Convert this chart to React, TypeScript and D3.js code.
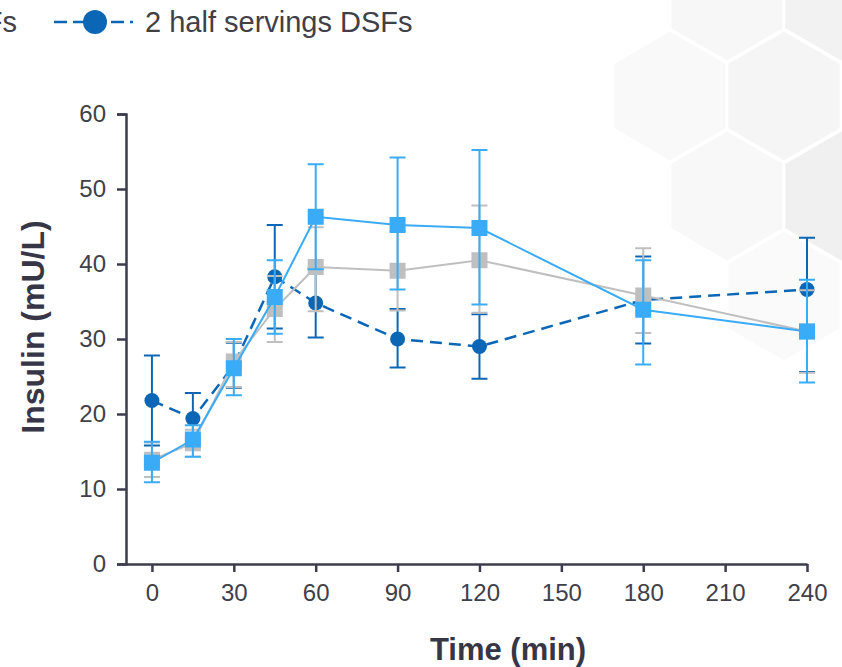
import React, { useEffect, useRef } from "react";
import * as d3 from "d3";

const times = [0, 15, 30, 45, 60, 90, 120, 180, 240];
const xTicks = [0, 30, 60, 90, 120, 150, 180, 210, 240];
const yTicks = [0, 10, 20, 30, 40, 50, 60];

// 2 half servings DSFs (dark blue, dashed, circles)
const halfMean = [21.8, 19.4, 26.5, 38.3, 34.8, 30.0, 29.0, 35.2, 36.6];
const halfUp = [6.0, 3.4, 3.0, 6.9, 4.6, 4.0, 4.3, 5.8, 6.9];
const halfDown = [6.0, 3.4, 3.0, 6.9, 4.6, 3.8, 4.3, 5.8, 11.0];

// 1 full serving DSFs (light blue, squares)
const fullMean = [13.5, 16.6, 26.1, 35.6, 46.3, 45.2, 44.8, 33.9, 31.0];
const fullUp = [2.8, 1.9, 3.9, 4.9, 7.0, 9.0, 10.4, 6.6, 6.9];
const fullDown = [2.6, 2.3, 3.6, 4.9, 7.0, 8.6, 10.2, 7.3, 6.8];

// control (grey, squares)
const ctrlMean = [13.9, 16.1, 27.0, 34.0, 39.6, 39.1, 40.5, 35.8, 31.0];
const ctrlUp = [2.3, 1.8, 2.6, 4.4, 5.3, 5.3, 7.3, 6.3, 5.5];
const ctrlDown = [2.3, 1.8, 3.4, 4.4, 5.9, 5.3, 7.0, 5.0, 5.5];

const legendLabels = ["Control", "1 full serving DSFs", "2 half servings DSFs"];

// background hexagon decoration
const hexCenters: [number, number][] = [
  [727, -4], [841, -4], [670, 96], [784, 96], [727, 196], [841, 196], [784, 296]
];
const hexFills = ["#f7f7f7", "#f2f2f2", "#f9f9f9", "#f5f5f5", "#f8f8f8", "#f0f0f0", "#fafafa"];

const width = 842;
const height = 667;
const font = "'Liberation Sans', Arial, Helvetica, sans-serif";
const axisColor = "#3c3c4e";
const textColor = "#404048";

const DARK = "#0b67b5";
const LIGHT = "#3aabf7";
const GREY = "#bfbfbf";

const App = () => {
  const chart = useRef<SVGSVGElement>(null);

  useEffect(() => {
    const svg = d3.select(chart.current);
    svg.selectAll("*").remove();

    const x = d3.scaleLinear().domain([-9.5, 240]).range([126, 807]);
    const y = d3.scaleLinear().domain([0, 60]).range([564, 114]);

    // hexagons
    const R = 66;
    const hex = (cx: number, cy: number) =>
      d3.range(6).map(k => {
        const a = ((-90 + 60 * k) * Math.PI) / 180;
        return [cx + R * Math.cos(a), cy + R * Math.sin(a)];
      });
    svg
      .append("g")
      .selectAll("polygon")
      .data(hexCenters)
      .join("polygon")
      .attr("points", d => hex(d[0], d[1]).map(p => p.join(",")).join(" "))
      .attr("fill", (d, i) => hexFills[i])
      .attr("stroke", "#fff")
      .attr("stroke-width", 3);

    // axes
    const yAxis = svg
      .append("g")
      .attr("transform", `translate(${x(-9.5)},0)`)
      .call(d3.axisLeft(y).tickValues(yTicks).tickSize(9).tickPadding(11));
    const xAxis = svg
      .append("g")
      .attr("transform", `translate(0,${y(0)})`)
      .call(d3.axisBottom(x).tickValues(xTicks).tickSize(8).tickSizeOuter(0).tickPadding(12));
    [yAxis, xAxis].forEach(g => {
      g.selectAll("path,line").attr("stroke", axisColor).attr("stroke-width", 2.5);
      g.selectAll("text")
        .attr("fill", textColor)
        .attr("font-size", 24)
        .attr("font-family", font);
    });

    svg
      .append("text")
      .attr("transform", `translate(44,327) rotate(-90)`)
      .attr("text-anchor", "middle")
      .attr("font-family", font)
      .attr("font-weight", "bold")
      .attr("font-size", 32)
      .attr("fill", "#363646")
      .text("Insulin (mU/L)");
    svg
      .append("text")
      .attr("x", 508)
      .attr("y", 660)
      .attr("text-anchor", "middle")
      .attr("font-family", font)
      .attr("font-weight", "bold")
      .attr("font-size", 31)
      .attr("fill", "#363646")
      .text("Time (min)");

    const series = [
      { mean: halfMean, up: halfUp, down: halfDown, color: DARK, marker: "circle", dash: "12,7", lw: 2.5 },
      { mean: ctrlMean, up: ctrlUp, down: ctrlDown, color: GREY, marker: "square", dash: null, lw: 2 },
      { mean: fullMean, up: fullUp, down: fullDown, color: LIGHT, marker: "square", dash: null, lw: 2 }
    ];

    const line = d3
      .line<number>()
      .x((d, i) => x(times[i]))
      .y(d => y(d));

    series.forEach(s => {
      const g = svg.append("g");
      // error bars
      const eb = g
        .selectAll("g.eb")
        .data(s.mean)
        .join("g")
        .attr("stroke", s.color)
        .attr("stroke-width", 2);
      eb.append("line")
        .attr("x1", (d, i) => x(times[i]))
        .attr("x2", (d, i) => x(times[i]))
        .attr("y1", (d, i) => y(d + s.up[i]))
        .attr("y2", (d, i) => y(d - s.down[i]));
      eb.append("line")
        .attr("x1", (d, i) => x(times[i]) - 8)
        .attr("x2", (d, i) => x(times[i]) + 8)
        .attr("y1", (d, i) => y(d + s.up[i]))
        .attr("y2", (d, i) => y(d + s.up[i]));
      eb.append("line")
        .attr("x1", (d, i) => x(times[i]) - 8)
        .attr("x2", (d, i) => x(times[i]) + 8)
        .attr("y1", (d, i) => y(d - s.down[i]))
        .attr("y2", (d, i) => y(d - s.down[i]));

      g.append("path")
        .attr("d", line(s.mean))
        .attr("fill", "none")
        .attr("stroke", s.color)
        .attr("stroke-width", s.lw)
        .attr("stroke-dasharray", s.dash);

      if (s.marker === "circle") {
        g.selectAll("circle")
          .data(s.mean)
          .join("circle")
          .attr("cx", (d, i) => x(times[i]))
          .attr("cy", d => y(d))
          .attr("r", 7.5)
          .attr("fill", s.color);
      } else {
        g.selectAll("rect")
          .data(s.mean)
          .join("rect")
          .attr("x", (d, i) => x(times[i]) - 8)
          .attr("y", d => y(d) - 8)
          .attr("width", 16)
          .attr("height", 16)
          .attr("fill", s.color);
      }
    });

    // legend, laid out right to left from the last item
    const legendItems = [
      { label: legendLabels[0], color: GREY, marker: "square", dash: null },
      { label: legendLabels[1], color: LIGHT, marker: "square", dash: null },
      { label: legendLabels[2], color: DARK, marker: "circle", dash: "13,6" }
    ];
    const lg = svg.append("g").attr("font-family", font).attr("font-size", 29);
    let cursor = 54; // left edge of last item's marker
    for (let k = legendItems.length - 1; k >= 0; k--) {
      const it = legendItems[k];
      const item = lg.append("g");
      item
        .append("text")
        .attr("x", cursor + 91)
        .attr("y", 32)
        .attr("fill", textColor)
        .text(it.label);
      item.append("line")
        .attr("x1", cursor)
        .attr("x2", cursor + 79)
        .attr("y1", 22)
        .attr("y2", 22)
        .attr("stroke", it.color)
        .attr("stroke-width", 2.5)
        .attr("stroke-dasharray", it.dash);
      if (it.marker === "circle") {
        item.append("circle").attr("cx", cursor + 41).attr("cy", 22).attr("r", 12).attr("fill", it.color);
      } else {
        item.append("rect").attr("x", cursor + 29).attr("y", 10).attr("width", 24).attr("height", 24).attr("fill", it.color);
      }
      if (k > 0) {
        const tmp = lg.append("text").text(legendItems[k - 1].label);
        const w = (tmp.node() as SVGTextElement).getComputedTextLength();
        tmp.remove();
        cursor = cursor - 37 - w - 91;
      }
    }
  }, []);

  return (
    <svg
      ref={chart}
      width={width}
      height={height}
      viewBox={`0 0 ${width} ${height}`}
      style={{ position: "absolute", left: 0, top: 0, background: "#fff" }}
    ></svg>
  );
};

export default App;
